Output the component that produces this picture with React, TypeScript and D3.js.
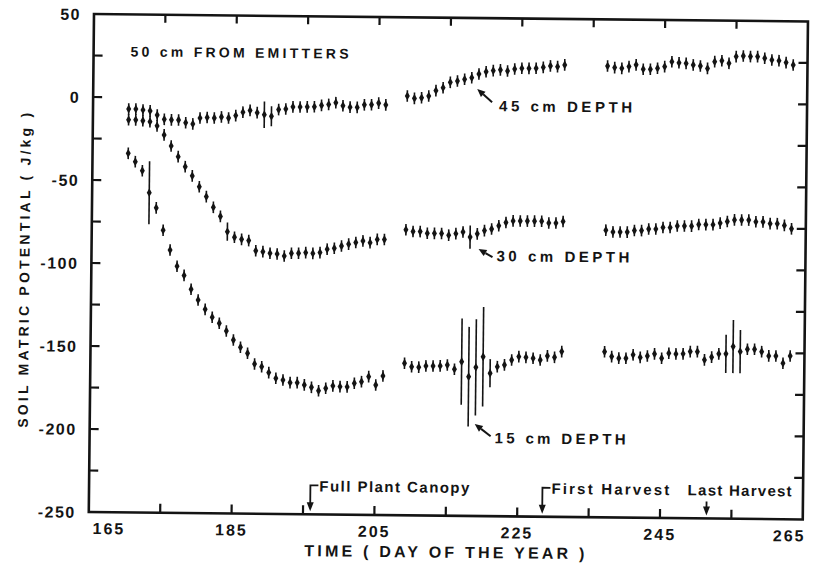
import React from "react";
import * as d3 from "d3";

// day of year for every reading (gaps are null in the series)
const days = d3.range(170, 264);
const N = null;

const depth45 = [
  -7, -7, -7.5, -8, -10.5, -13, -13.3, -13.3, -14.9, -15.6,
  -12, -11.6, -11.9, -11.2, -11.8, -10.3, -8.2, -7.1, -8.4, -9.6,
  -10.5, -6.4, -6, -4.7, -4.7, -4.6, -4.5, -3.6, -3, -1.9,
  -3.7, -4.5, -4.6, -3, -2.9, -1.9, -2.9, N, N, 2.6,
  1.2, 1.6, 2.7, 6.0, 7.8, 11.1, 11.9, 13.0, 14.0, 16.3,
  17.7, 18.4, 18.9, 18.3, 19.5, 20.0, 20.0, 20.1, 20.7, 21.6,
  21.2, 22.3, N, N, N, N, N, 21.9, 21.0, 20.6,
  21.7, 22.8, 20.2, 20.2, 20.9, 21.9, 24.9, 24.3, 24.0, 23.1,
  22.5, 21.1, 25.2, 25.8, 24.3, 28.4, 28.8, 28.5, 28.5, 27.6,
  26.6, 26.2, 25.1, 23.7,
];

const depth30 = [
  -13.5, -13.5, -14, -14.5, -17, -22.4, -29.0, -35.4, -41.4, -46.9,
  -53.4, -59.3, -65.7, -71.1, -80.3, -83.6, -84.8, -85.5, -91.6, -92.1,
  -93.0, -93.4, -94.6, -92.9, -92.8, -92.4, -92.8, -92.3, -90.2, -89.6,
  -88.2, -87, -86, -85, -86, -84, -84, N, N, -78,
  -79, -79, -80, -80, -80, -81, -80, -79, -82, -80,
  -78, -77, -75, -73, -72, -72, -72, -72, -72, -73,
  -73, -72, N, N, N, N, N, -77, -78, -78,
  -78, -77, -77, -76, -76, -75, -75, -74, -74, -74,
  -73, -73, -73, -72, -71, -70, -70, -70, -71, -71,
  -72, -72, -73, -75,
];

const depth15 = [
  -33.7, -38.7, -44.1, -57.3, -66.4, -79.8, -91.7, -101.4, -106.9, -115.2,
  -121.6, -127.2, -131.9, -135.5, -140.1, -145.5, -149.8, -153.4, -159.8, -161.4,
  -164.9, -168.3, -169.3, -170.8, -170.8, -172.1, -173.5, -175.5, -174.0, -172.5,
  -172.9, -173.0, -170.8, -169.8, -166.7, -171.7, -166.2, N, N, -158.4,
  -160.5, -160.7, -159.9, -159.9, -159.8, -159.2, -161.7, -157.1, -166.1, -160.4,
  -154.0, -163.9, -159.9, -158.8, -155.8, -153.7, -154.1, -154.6, -155.6, -153.1,
  -153.9, -150.4, N, N, N, N, N, -150.2, -153.1, -154.0,
  -154.0, -151.9, -153.4, -152.5, -151.2, -153.8, -150.7, -151.1, -151.0, -149.6,
  -149.6, -154.5, -152.8, -150.8, -150.7, -146.3, -149.3, -147.8, -147.8, -149.2,
  -151.7, -151.7, -156.0, -151.6,
];

// usual half-width of the bars, and the days where it is much larger
const normalErr = 3.5;
const bigErr45 = [[189, 8], [190, 6]];
const bigErr30 = [[184, 5.5], [218, 7]];
const bigErr15 = [
  [173, 19], [217, 26], [218, 30], [219, 29], [220, 30], [221, 8.5],
  [254, 11.5], [255, 16], [256, 13],
];

const xLabelTicks = [165, 185, 205, 225, 245, 265];
const xMinorTicks = [175, 185, 195, 205, 215, 225, 235, 245, 255];
const yLabelTicks = [50, 0, -50, -100, -150, -200, -250];
const yMinorTicks = [25, 0, -25, -50, -75, -100, -125, -150, -175, -200, -225];

const eventDays = [196, 228.5, 251.5];
const eventLabels = ["Full Plant Canopy", "First Harvest", "Last Harvest"];

const seriesLabels = ["45 cm DEPTH", "30 cm DEPTH", "15 cm DEPTH"];

const width = 821;
const height = 569;
const left = 94;
const top = 14;
const plotW = 714;
const plotH = 498;

const x = d3.scaleLinear().domain([165, 265]).range([left, left + plotW]);
const y = d3.scaleLinear().domain([-250, 50]).range([top + plotH, top]);

const font = "'Liberation Sans', Arial, sans-serif";
const narrow = "'Liberation Sans Narrow', 'Liberation Sans', Arial, sans-serif";
const ink = "#141414";

function Series({ values, big }: { values: (number | null)[]; big: number[][] }) {
  const errMap = new Map(big.map(([d, e]) => [d, e]));
  return (
    <g>
      {days.map((d, i) => {
        const v = values[i];
        if (v == null) return null;
        const e = errMap.get(d) ?? normalErr;
        const cx = x(d);
        const cy = y(v);
        return (
          <g key={d}>
            <line x1={cx} x2={cx} y1={y(v + e)} y2={y(v - e)} stroke={ink} strokeWidth={1.6} />
            <path
              d={`M${cx},${cy - 4.4}L${cx + 2.5},${cy}L${cx},${cy + 4.4}L${cx - 2.5},${cy}Z`}
              fill={ink}
            />
          </g>
        );
      })}
    </g>
  );
}

function Arrow({ x1, y1, x2, y2 }: { x1: number; y1: number; x2: number; y2: number }) {
  const a = Math.atan2(y2 - y1, x2 - x1);
  const L = 8;
  const w = 3.5;
  const bx = x2 - L * Math.cos(a);
  const by = y2 - L * Math.sin(a);
  const px = -Math.sin(a) * w;
  const py = Math.cos(a) * w;
  return (
    <g>
      <line x1={x1} y1={y1} x2={bx} y2={by} stroke={ink} strokeWidth={2} />
      <path d={`M${x2},${y2}L${bx + px},${by + py}L${bx - px},${by - py}Z`} fill={ink} />
    </g>
  );
}

export default function App() {
  const x0 = left;
  const x1 = left + plotW;
  const y0 = top;
  const y1 = top + plotH;
  const eventWidths = [150, 118, 104];
  return (
    <svg
      width={width}
      height={height}
      style={{ position: "absolute", left: 0, top: 0, background: "#fff" }}
    >
      <rect width={width} height={height} fill="#fff" />
      <g transform={`rotate(0.6 ${left} ${top})`}>
        {/* frame */}
        <rect x={x0} y={y0} width={plotW} height={plotH} fill="none" stroke={ink} strokeWidth={2.6} />

        {/* ticks */}
        {yMinorTicks.map((t) => (
          <g key={"y" + t}>
            <line x1={x0} x2={x0 + 9} y1={y(t)} y2={y(t)} stroke={ink} strokeWidth={2.2} />
            <line x1={x1 - 9} x2={x1} y1={y(t)} y2={y(t)} stroke={ink} strokeWidth={2.2} />
          </g>
        ))}
        {xMinorTicks.map((t) => (
          <g key={"x" + t}>
            <line x1={x(t)} x2={x(t)} y1={y1} y2={y1 - 9} stroke={ink} strokeWidth={2.2} />
            <line x1={x(t)} x2={x(t)} y1={y0} y2={y0 + 8} stroke={ink} strokeWidth={2.2} />
          </g>
        ))}

        {/* tick labels */}
        {yLabelTicks.map((t) => (
          <text
            key={"yl" + t}
            x={x0 - 13}
            y={y(t) + 6}
            textAnchor="end"
            fontFamily={font}
            fontWeight="bold"
            fontSize={16}
            letterSpacing={1.5}
            fill={ink}
          >
            {t}
          </text>
        ))}
        {xLabelTicks.map((t, i) => (
          <text
            key={"xl" + t}
            x={i === 0 ? x(t) + 4 : i === xLabelTicks.length - 1 ? x(t) + 3 : x(t)}
            y={y1 + 22}
            textAnchor={i === 0 ? "start" : i === xLabelTicks.length - 1 ? "end" : "middle"}
            fontFamily={font}
            fontWeight="bold"
            fontSize={16}
            letterSpacing={2}
            fill={ink}
          >
            {t}
          </text>
        ))}

        {/* axis titles */}
        <text
          x={450}
          y={554}
          textAnchor="middle"
          fontFamily={narrow}
          fontWeight="bold"
          fontSize={16}
          textLength={280}
          lengthAdjust="spacing"
          fill={ink}
        >
          TIME ( DAY OF THE YEAR )
        </text>
        <text
          transform={`translate(32,271) rotate(-90)`}
          textAnchor="middle"
          fontFamily={font}
          fontWeight="bold"
          fontSize={14}
          textLength={315}
          lengthAdjust="spacing"
          fill={ink}
        >
          SOIL MATRIC POTENTIAL ( J/kg )
        </text>

        {/* series */}
        <Series values={depth45} big={bigErr45} />
        <Series values={depth30} big={bigErr30} />
        <Series values={depth15} big={bigErr15} />

        {/* labels inside plot */}
        <text
          x={131}
          y={56}
          fontFamily={font}
          fontWeight="bold"
          fontSize={14}
          textLength={218}
          lengthAdjust="spacing"
          fill={ink}
        >
          50 cm FROM EMITTERS
        </text>

        <text x={500} y={107} fontFamily={font} fontWeight="bold" fontSize={15} textLength={133} lengthAdjust="spacing" fill={ink}>
          {seriesLabels[0]}
        </text>
        <Arrow x1={493} y1={98} x2={478} y2={85} />

        <text x={499} y={257} fontFamily={font} fontWeight="bold" fontSize={15} textLength={133} lengthAdjust="spacing" fill={ink}>
          {seriesLabels[1]}
        </text>
        <Arrow x1={495} y1={253} x2={481} y2={245} />

        <text x={499} y={439} fontFamily={font} fontWeight="bold" fontSize={15} textLength={131} lengthAdjust="spacing" fill={ink}>
          {seriesLabels[2]}
        </text>
        <Arrow x1={495} y1={432} x2={479} y2={420} />

        {/* events */}
        {eventDays.map((d, i) => {
          const ax = x(d);
          const label = (
            <text
              x={i < 2 ? ax + 9 : ax - 19}
              y={489}
              fontFamily={narrow}
              fontWeight="bold"
              fontSize={15}
              textLength={eventWidths[i]}
              lengthAdjust="spacing"
              fill={ink}
            >
              {eventLabels[i]}
            </text>
          );
          return (
            <g key={"ev" + i}>
              {i < 2 ? (
                <path d={`M${ax + 8},${483}H${ax}V${502}`} fill="none" stroke={ink} strokeWidth={1.8} />
              ) : (
                <line x1={ax} x2={ax} y1={495} y2={502} stroke={ink} strokeWidth={1.8} />
              )}
              <path d={`M${ax},${509}L${ax - 3.5},${500}L${ax + 3.5},${500}Z`} fill={ink} />
              {label}
            </g>
          );
        })}
      </g>
    </svg>
  );
}
